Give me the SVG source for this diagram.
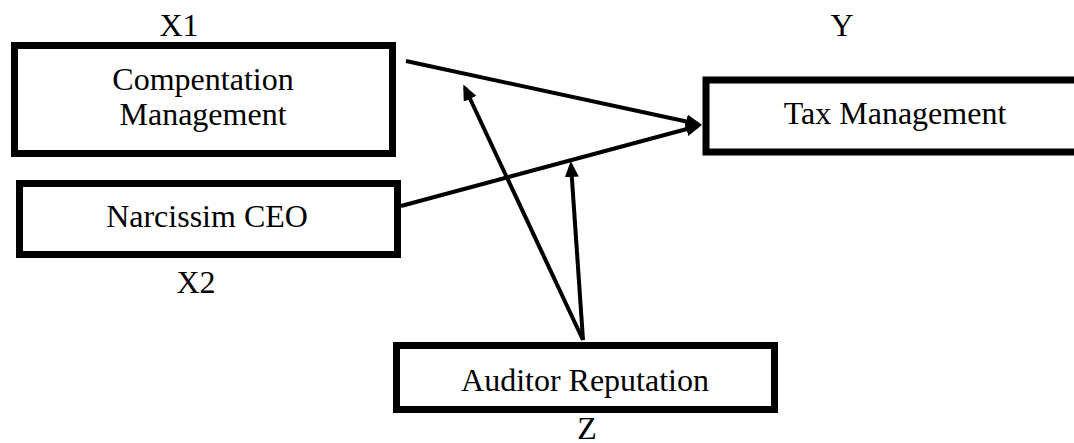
<svg xmlns="http://www.w3.org/2000/svg" width="1074" height="443" viewBox="0 0 1074 443">
  <style>
    .box { fill: #ffffff; stroke: #000000; stroke-width: 7; }
    .lbl { font-family: "Liberation Serif", "Tinos", "Times New Roman", "DejaVu Serif", serif; font-size: 32px; fill: #000000; text-anchor: middle; }
    .edge { stroke: #000000; stroke-width: 4; fill: none; marker-end: url(#arrow); }
  </style>
  <defs>
    <marker id="arrow" markerUnits="userSpaceOnUse" markerWidth="16" markerHeight="14" viewBox="0 0 16 14" refX="12" refY="7" orient="auto">
      <path d="M0,0 L16,7 L0,14 z" fill="#000000"/>
    </marker>
  </defs>

  <rect width="1074" height="443" fill="#ffffff"/>

  <g id="compensation">
    <rect class="box" x="14.5" y="45.5" width="378" height="108"/>
    <text class="lbl" x="179" y="36" font-family="Liberation Serif, serif">X1</text>
    <text class="lbl" x="203" y="90">Compentation</text>
    <text class="lbl" x="203" y="125">Management</text>
  </g>

  <g id="narcissism">
    <rect class="box" x="19.5" y="183.5" width="378" height="71"/>
    <text class="lbl" x="207" y="227">Narcissim CEO</text>
    <text class="lbl" x="196" y="293">X2</text>
  </g>

  <g id="tax">
    <rect class="box" x="706" y="80" width="400" height="72"/>
    <text class="lbl" x="842" y="36">Y</text>
    <text class="lbl" x="895" y="124">Tax Management</text>
  </g>

  <g id="auditor">
    <rect class="box" x="396.5" y="345.5" width="378" height="64"/>
    <text class="lbl" x="585" y="391">Auditor Reputation</text>
    <text class="lbl" x="587" y="439">Z</text>
  </g>

  <g id="connectors">
    <line class="edge" x1="406" y1="61" x2="698" y2="124"/>
    <line class="edge" x1="401" y1="206" x2="698" y2="126"/>
    <line class="edge" x1="583" y1="340" x2="465" y2="88"/>
    <line class="edge" x1="583" y1="340" x2="571" y2="165"/>
  </g>
</svg>
